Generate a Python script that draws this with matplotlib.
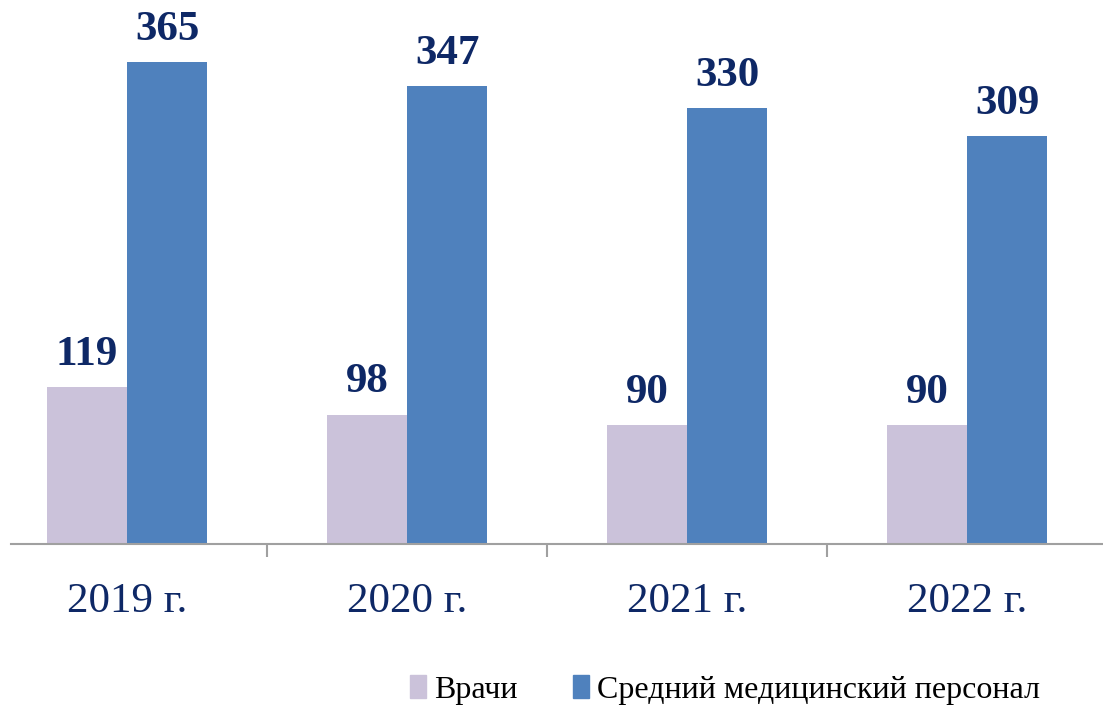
import matplotlib
matplotlib.use("Agg")
import matplotlib.pyplot as plt
from matplotlib.patches import Patch
import numpy as np

years = ["2019 г.", "2020 г.", "2021 г.", "2022 г."]
series_names = ["Врачи", "Средний медицинский персонал"]
doctors = [119, 98, 90, 90]
nurses = [365, 347, 330, 309]

c_doc = "#CBC2DA"
c_nur = "#4F81BD"
navy = "#0E2866"
W, H = 1103, 707
fig = plt.figure(figsize=(W / 100, H / 100), dpi=100)
ax = fig.add_axes([11 / W, (H - 544) / H, (W - 11) / W, 544 / H])

x = np.arange(len(years))
bw = 80 / 280
b1 = ax.bar(x - bw / 2, doctors, bw, color=c_doc)
b2 = ax.bar(x + bw / 2, nurses, bw, color=c_nur)
for bars, vals in ((b1, doctors), (b2, nurses)):
    for r, v in zip(bars, vals):
        ax.annotate(str(v), (r.get_x() + r.get_width() / 2, v), xytext=(0, 9.5),
                    textcoords="offset points", ha="center", va="bottom",
                    fontsize=31, fontweight="bold", color=navy,
                    family="Liberation Serif")

ax.set_xlim((11 - 127) / 280, (W - 127) / 280)
ax.set_ylim(0, 544 / 1.3205)
for s in ("left", "right", "top"):
    ax.spines[s].set_visible(False)
ax.spines["bottom"].set_color("#A0A0A0")
ax.spines["bottom"].set_linewidth(1.5)
ax.set_yticks([])
ax.set_xticks(x)
ax.set_xticklabels(years, fontsize=31, color=navy, family="Liberation Serif")
ax.tick_params(axis="x", which="major", length=0, pad=27.5)
ax.set_xticks([0.5, 1.5, 2.5], minor=True)
ax.tick_params(axis="x", which="minor", length=9, width=1.5, color="#A0A0A0")

handles = [Patch(color=c_doc), Patch(color=c_nur)]
fig.legend(handles, series_names, loc="center", bbox_to_anchor=(725 / W, 1 - 690 / H),
           ncol=2, frameon=False, handlelength=0.5, handleheight=0.7,
           handletextpad=0.25, columnspacing=1.75,
           prop={"family": "Liberation Serif", "size": 23})

fig.savefig("out.png", dpi=100)
